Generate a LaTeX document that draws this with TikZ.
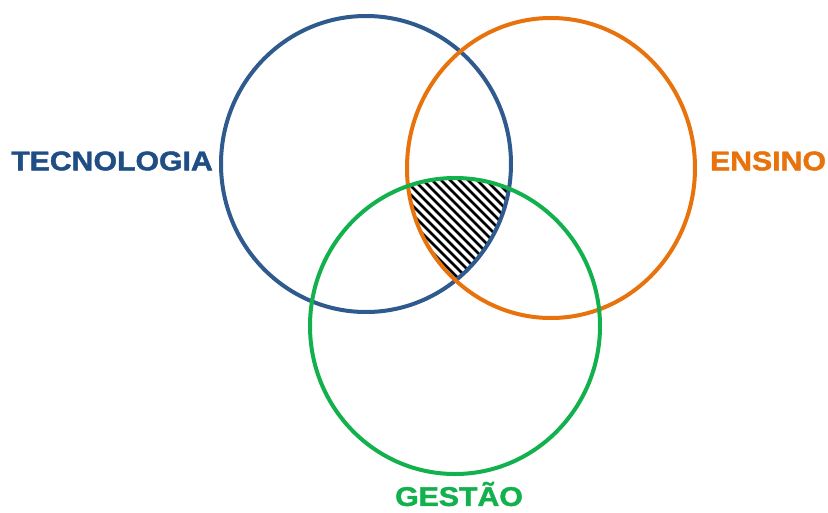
\documentclass[tikz,border=0pt]{standalone}
\usepackage{fontspec}
\setmainfont{Liberation Sans}
\newfontfamily\labfont[FakeStretch=1.12,FakeBold=1.6]{Liberation Sans}
\definecolor{cblue}{HTML}{2F5A8E}
\definecolor{tblue}{HTML}{1F4E85}
\definecolor{corange}{HTML}{E8720C}
\definecolor{cgreen}{HTML}{12B14E}
\begin{document}
\begin{tikzpicture}[x=1pt,y=1pt,
  ring/.style={line width=4pt},
  lab/.style={font=\labfont\bfseries\fontsize{27}{31}\selectfont, inner sep=0pt}]
\useasboundingbox (0,0) rectangle (828,-512);
% hatched intersection
\begin{scope}
  \clip (366,-164) ellipse [x radius=145, y radius=148];
  \clip (551,-168) ellipse [x radius=144, y radius=150];
  \clip (455,-326) ellipse [x radius=145, y radius=148];
  \foreach \c in {240,249,...,540}
    \draw[line width=2.8pt, black] (\c,-150) -- ++(160,-160);
\end{scope}
\draw[ring, cblue] (366,-164) ellipse [x radius=145, y radius=148];
\draw[ring, corange] (551,-168) ellipse [x radius=144, y radius=150];
\draw[ring, cgreen] (455,-326) ellipse [x radius=145, y radius=148];
\node[lab, text=tblue] (tec) at (112,-161) {TECNOLOGIA};
\node[lab, text=corange] (ens) at (768,-161) {ENSINO};
\node[lab, text=cgreen] (ges) at (459,-494) {GESTÃO};
\end{tikzpicture}
\end{document}
